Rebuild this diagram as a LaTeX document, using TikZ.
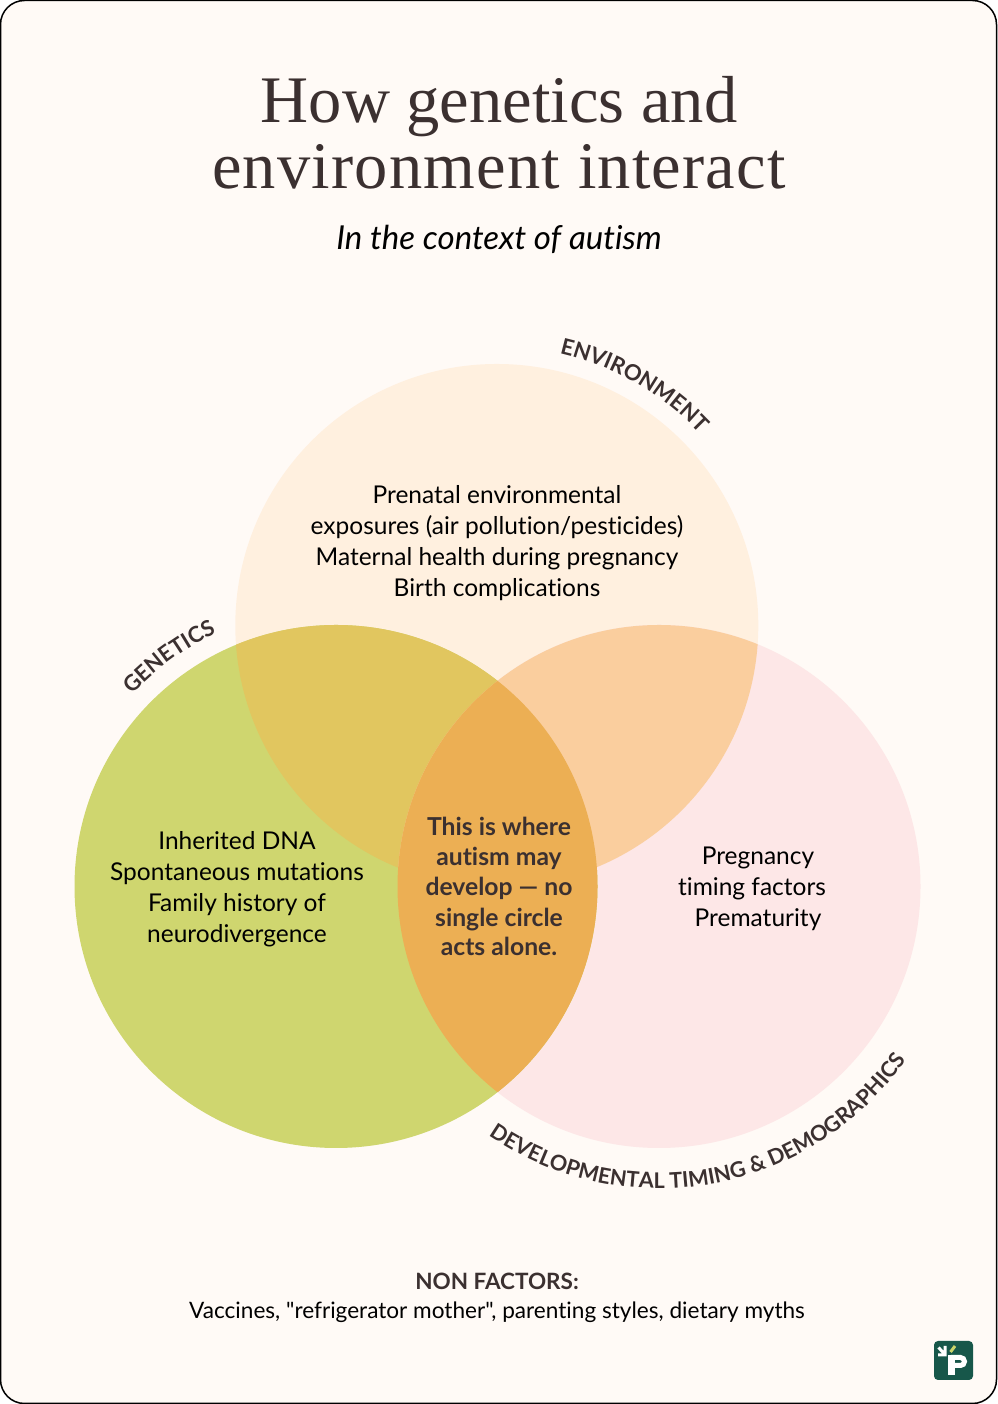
\documentclass[tikz,border=0pt]{standalone}
\usepackage{fontspec}
\usetikzlibrary{decorations.text}
\setmainfont{Lato}[Ligatures=NoCommon]
\newfontfamily\plainfont{Lato}[Ligatures=NoCommon]
\newfontfamily\titlefont{Liberation Serif}
\definecolor{pagebg}{HTML}{FFFAF6}
\definecolor{ink}{HTML}{3B3030}
\definecolor{envc}{HTML}{FFF0DF}
\definecolor{genc}{HTML}{CFD66F}
\definecolor{devc}{HTML}{FDE7E7}
\definecolor{egc}{HTML}{E1C65F}
\definecolor{edc}{HTML}{FACE9E}
\definecolor{allc}{HTML}{ECAF54}
\definecolor{logoc}{HTML}{17574A}
\definecolor{logog}{HTML}{C9D36A}
\newcommand{\curvefont}{\plainfont\fontsize{22}{22}\selectfont\bfseries\color{ink}}
\newcommand{\curvefontb}{\plainfont\fontsize{21.6}{21.6}\selectfont\bfseries\color{ink}}
\tikzset{
 titletxt/.style={anchor=base,inner sep=0pt,text=ink,font=\titlefont\fontsize{66.5}{66.5}\selectfont},
 subtxt/.style={anchor=base,inner sep=0pt,text=black,font=\plainfont\itshape\fontsize{33}{33}\selectfont},
 bodytxt/.style={anchor=base,inner sep=0pt,text=black,font=\plainfont\fontsize{24.5}{24.5}\selectfont},
 boldtxt/.style={anchor=base,inner sep=0pt,text=ink,font=\plainfont\bfseries\fontsize{24.7}{24.7}\selectfont},
}
\begin{document}
\begin{tikzpicture}[x=1pt,y=1pt]
\useasboundingbox (0,0) rectangle (997,1404);
\fill[white] (0,0) rectangle (997,1404);
\draw[fill=pagebg,draw=black,line width=1.5pt,rounded corners=24pt] (0.5,0.5) rectangle (996.5,1403.5);
\coordinate (E) at (496.8,778.5);
\coordinate (G) at (336,517.5);
\coordinate (D) at (659,517.5);
\def\R{261.5}
\fill[envc] (E) circle (\R);
\fill[devc] (D) circle (\R);
\fill[genc] (G) circle (\R);
\begin{scope}
 \clip (E) circle (\R);
 \fill[egc] (G) circle (\R);
 \fill[edc] (D) circle (\R);
\end{scope}
\begin{scope}
 \clip (G) circle (\R);
 \fill[allc] (D) circle (\R);
\end{scope}
% curved labels
\path[decorate,decoration={text along path,text align=center,text={|\curvefont|ENVIRONMENT}}] ([shift={(77:279.5)}]E) arc[start angle=77,end angle=43.4,radius=279.5];
\path[decorate,decoration={text along path,text align=center,text={|\curvefont|GENETICS}}] ([shift={(137.5:280)}]G) arc[start angle=137.5,end angle=114.5,radius=280];
\path[decorate,decoration={text along path,text align=center,text={|\curvefontb|DEVELOPMENTAL TIMING {\&} DEMOGRAPHICS}}] ([shift={(-125.5:302)}]D) arc[start angle=-125.5,end angle=-34,radius=302];
% title
\node[titletxt] (t1) at (499,1281) {How genetics and};
\node[titletxt] (t2) at (499,1215) {\addfontfeature{LetterSpace=1.8}environment interact};
\node[subtxt] (sub) at (499,1154.5) {In the context of autism};
% environment
\node[bodytxt] (e1) at (497,900) {Prenatal environmental};
\node[bodytxt] (e2) at (497,869) {exposures (air pollution/pesticides)};
\node[bodytxt] (e3) at (497,838) {Maternal health during pregnancy};
\node[bodytxt] (e4) at (497,807) {Birth complications};
% genetics
\node[bodytxt] (g1) at (237,554) {Inherited DNA};
\node[bodytxt] (g2) at (237,523) {Spontaneous mutations};
\node[bodytxt] (g3) at (237,492) {Family history of};
\node[bodytxt] (g4) at (237,461) {neurodivergence};
% development
\node[bodytxt] (d1) at (758,539) {Pregnancy};
\node[bodytxt] (d2) at (752,508) {timing factors};
\node[bodytxt] (d3) at (758,477) {Prematurity};
% centre
\node[boldtxt] (c1) at (499,568) {This is where};
\node[boldtxt] (c2) at (499,538) {autism may};
\node[boldtxt] (c3) at (499,508) {develop — no};
\node[boldtxt] (c4) at (499,477.5) {single circle};
\node[boldtxt] (c5) at (499,448) {acts alone.};
% footer
\node[boldtxt,font=\plainfont\bfseries\fontsize{22.5}{22.5}\selectfont] (f1) at (497,114) {NON FACTORS:};
\node[bodytxt,font=\plainfont\fontsize{22.6}{22.6}\selectfont] (f2) at (497,85) {Vaccines, "refrigerator mother", parenting styles, dietary myths};
% logo
\fill[logoc,rounded corners=4pt] (934,24) rectangle (973,63);
\draw[white,line width=7pt] (951,29) -- (951,49);
\draw[white,line width=5pt] (951,46.5) -- (960.5,46.5) arc[start angle=90,end angle=-90,radius=4] -- (951,38.5);
\draw[white,line width=3pt] (938,49) -- (946.5,49) (945,58) -- (945,47.5) (938.5,56.5) -- (945,49.5);
\draw[logog,line width=3pt] (950.5,52) -- (955,58);
\end{tikzpicture}
\end{document}
